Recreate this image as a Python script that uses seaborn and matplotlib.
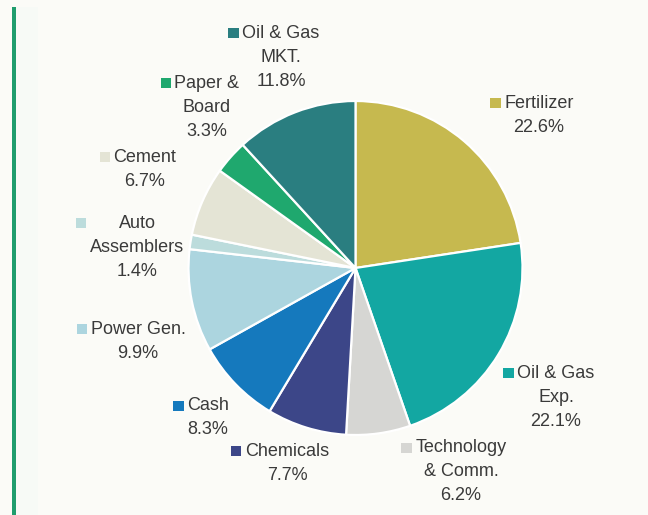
import matplotlib
matplotlib.use("Agg")
import matplotlib.pyplot as plt
from matplotlib.patches import Rectangle
import seaborn as sns

# Portfolio sector weights (%), clockwise from 12 o'clock
sectors = ["Fertilizer", "Oil & Gas Exp.", "Technology & Comm.", "Chemicals", "Cash",
           "Power Gen.", "Auto Assemblers", "Cement", "Paper & Board", "Oil & Gas MKT."]
weights = [22.6, 22.1, 6.2, 7.7, 8.3, 9.9, 1.4, 6.7, 3.3, 11.8]
sector_colors = ["#c6b94f", "#13a7a2", "#d6d6d3", "#3c4688", "#1579bd",
                 "#acd5df", "#bcdcdc", "#e4e4d5", "#1fa86e", "#2a7e80"]

# Label text broken into lines (the percentage is appended below)
label_lines = {
    "Fertilizer": ["Fertilizer"],
    "Oil & Gas Exp.": ["Oil & Gas", "Exp."],
    "Technology & Comm.": ["Technology", "& Comm."],
    "Chemicals": ["Chemicals"],
    "Cash": ["Cash"],
    "Power Gen.": ["Power Gen."],
    "Auto Assemblers": ["Auto", "Assemblers"],
    "Cement": ["Cement"],
    "Paper & Board": ["Paper &", "Board"],
    "Oil & Gas MKT.": ["Oil & Gas", "MKT."],
}
# Label anchor: (centre x, first line y) in pixels
label_pos = {
    "Fertilizer": (539, 103),
    "Oil & Gas Exp.": (556, 373),
    "Technology & Comm.": (461, 448),
    "Chemicals": (287, 451),
    "Cash": (208, 406),
    "Power Gen.": (138, 329),
    "Auto Assemblers": (137, 223),
    "Cement": (145, 157),
    "Paper & Board": (207, 83),
    "Oil & Gas MKT.": (281, 33),
}
LINE_STEP = 24

W, H = 648, 515
BG = "#fbfbf7"
TEXT = "#3a3a3a"

sns.set_style("white")
plt.rcParams["font.family"] = ["Liberation Sans", "DejaVu Sans"]

fig = plt.figure(figsize=(W / 100, H / 100), dpi=100, facecolor=BG)

# Pie axes: centre (355.5, 268) px, radius 167 px
cx, cy, r = 355.5, 268, 167
half = 200
ax = fig.add_axes([(cx - half) / W, (H - cy - half) / H, 2 * half / W, 2 * half / H])
ax.set_facecolor("none")
palette = sns.color_palette(sector_colors)
ax.pie(weights, colors=palette, startangle=90, counterclock=False, radius=1,
       wedgeprops=dict(edgecolor="white", linewidth=1.6))
ax.set_xlim(-half / r, half / r)
ax.set_ylim(-half / r, half / r)
ax.set_aspect("equal")
ax.axis("off")

# Pixel-space overlay for labels and decorations
ov = fig.add_axes([0, 0, 1, 1], zorder=5)
ov.set_xlim(0, W)
ov.set_ylim(H, 0)
ov.axis("off")
ov.patch.set_alpha(0)

# Accent bar on the left
ov.add_patch(Rectangle((16, 7), 22, H, color="#f7faf6", lw=0))
ov.add_patch(Rectangle((11.5, 7), 4.2, H, color="#1f9d6d", lw=0))

renderer = fig.canvas.get_renderer()
inv = ov.transData.inverted()
for name, val, col in zip(sectors, weights, palette):
    x, y = label_pos[name]
    lines = label_lines[name] + [f"{val:.1f}%"]
    left = None
    for i, line in enumerate(lines):
        t = ov.text(x, y + i * LINE_STEP, line, ha="center", va="center",
                    fontsize=13, color=TEXT)
        bb = t.get_window_extent(renderer)
        (x0, _), = inv.transform([[bb.x0, bb.y0]])
        left = x0 if left is None else min(left, x0)
    # colour key sits beside the first line, left of the widest line
    sq = 10.5
    ov.add_patch(Rectangle((left - 3.5 - sq, y - sq / 2), sq, sq, color=col, lw=0))

fig.savefig("out.png", dpi=100, facecolor=BG)
